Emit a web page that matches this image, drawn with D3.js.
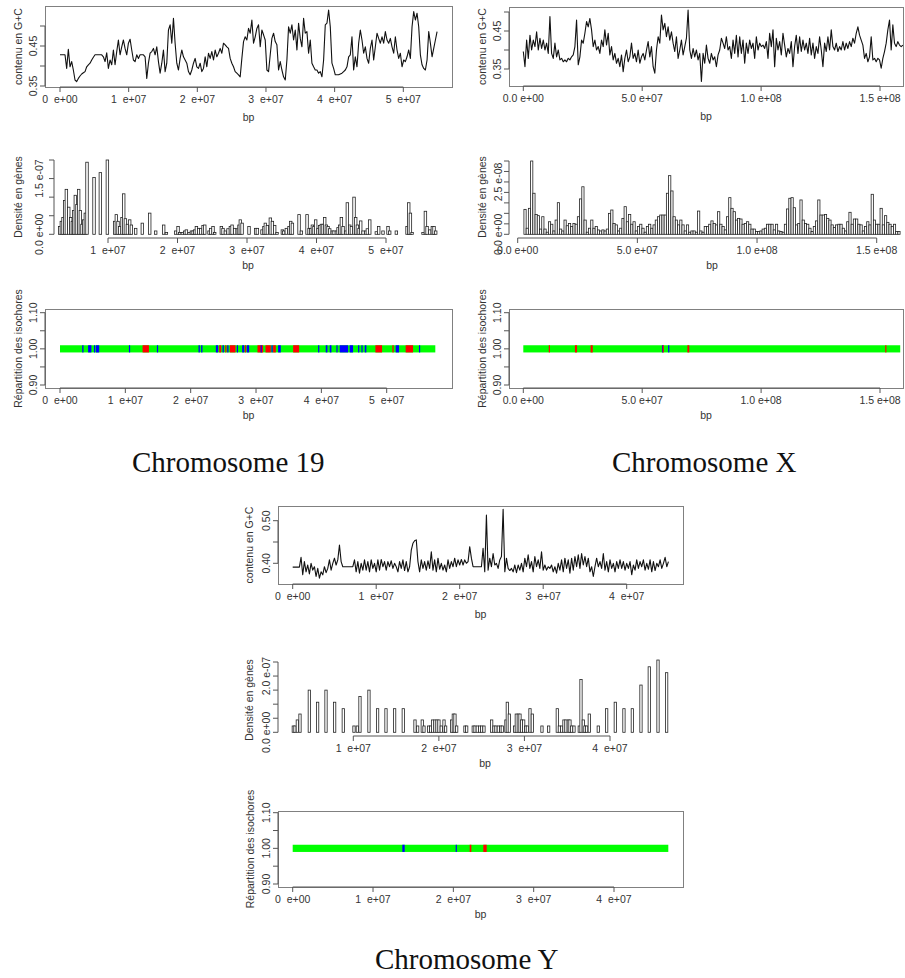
<!DOCTYPE html>
<html>
<head>
<meta charset="utf-8">
<script src="https://cdn.jsdelivr.net/npm/d3@7"></script>
<style>
  body { margin: 0; background: #fff; }
  text { font-family: "Liberation Sans", Arial, sans-serif; font-size: 10.5px; fill: #333; }
  .caption { font-family: "Liberation Serif", "Times New Roman", serif; font-size: 29px; fill: #111; }
</style>
</head>
<body>
<div id="chart"></div>
<script>
// ---------------- data ----------------
// G+C content along each chromosome, one value per sliding window
const chr19GCWindow = 243000;   // bp between consecutive windows
const chr19GC = [
  0.428,0.428,0.428,0.428,0.394,0.442,0.398,0.411,0.390,0.365,
  0.361,0.369,0.375,0.380,0.383,0.386,0.398,0.403,0.407,0.415,
  0.422,0.428,0.428,0.428,0.428,0.428,0.423,0.411,0.433,0.394,
  0.415,0.403,0.440,0.403,0.436,0.465,0.428,0.448,0.465,0.444,
  0.428,0.457,0.467,0.440,0.415,0.411,0.428,0.419,0.428,0.428,
  0.428,0.423,0.369,0.407,0.432,0.436,0.444,0.428,0.448,0.411,
  0.382,0.407,0.440,0.386,0.407,0.490,0.503,0.457,0.519,0.457,
  0.407,0.390,0.419,0.440,0.423,0.415,0.407,0.386,0.378,0.390,
  0.407,0.419,0.398,0.394,0.407,0.386,0.394,0.423,0.398,0.432,
  0.419,0.436,0.415,0.440,0.423,0.432,0.444,0.432,0.457,0.453,
  0.448,0.444,0.419,0.407,0.398,0.386,0.382,0.378,0.373,0.419,
  0.461,0.473,0.465,0.494,0.482,0.515,0.457,0.473,0.494,0.503,
  0.448,0.490,0.478,0.465,0.390,0.386,0.428,0.469,0.482,0.461,
  0.453,0.390,0.411,0.390,0.373,0.365,0.415,0.498,0.482,0.503,
  0.465,0.490,0.440,0.507,0.469,0.448,0.519,0.482,0.486,0.432,
  0.465,0.407,0.398,0.390,0.390,0.382,0.386,0.373,0.415,0.503,
  0.507,0.540,0.498,0.407,0.394,0.378,0.378,0.378,0.380,0.382,
  0.386,0.390,0.398,0.423,0.428,0.473,0.390,0.423,0.398,0.457,
  0.490,0.465,0.432,0.448,0.419,0.407,0.444,0.465,0.415,0.448,
  0.482,0.469,0.457,0.473,0.457,0.486,0.465,0.457,0.469,0.448,
  0.432,0.473,0.440,0.419,0.432,0.398,0.415,0.411,0.423,0.440,
  0.419,0.498,0.536,0.515,0.532,0.498,0.428,0.403,0.394,0.390,
  0.415,0.486,0.457,0.423,0.444,0.465,0.486
];

const chrXGCWindow = 700000;
const chrXGC = [
  0.396,0.356,0.426,0.378,0.439,0.400,0.426,0.409,0.448,0.400,
  0.431,0.404,0.426,0.400,0.418,0.391,0.488,0.391,0.378,0.418,
  0.382,0.400,0.374,0.378,0.369,0.374,0.369,0.378,0.374,0.382,
  0.387,0.409,0.479,0.361,0.382,0.426,0.418,0.444,0.475,0.461,
  0.483,0.453,0.409,0.426,0.400,0.409,0.391,0.426,0.409,0.453,
  0.413,0.444,0.387,0.409,0.374,0.391,0.365,0.378,0.356,0.387,
  0.343,0.378,0.400,0.369,0.382,0.418,0.378,0.391,0.369,0.400,
  0.365,0.382,0.391,0.374,0.400,0.422,0.382,0.409,0.356,0.339,
  0.400,0.435,0.418,0.492,0.453,0.470,0.435,0.461,0.426,0.448,
  0.418,0.396,0.435,0.378,0.400,0.426,0.387,0.409,0.431,0.505,
  0.400,0.378,0.404,0.382,0.400,0.374,0.391,0.317,0.391,0.365,
  0.413,0.378,0.365,0.391,0.374,0.382,0.356,0.387,0.400,0.431,
  0.418,0.404,0.435,0.400,0.409,0.378,0.426,0.391,0.439,0.382,
  0.435,0.391,0.426,0.365,0.418,0.391,0.426,0.404,0.418,0.378,
  0.435,0.400,0.418,0.409,0.413,0.404,0.422,0.378,0.444,0.409,
  0.453,0.356,0.431,0.400,0.422,0.387,0.444,0.413,0.382,0.404,
  0.391,0.422,0.356,0.409,0.439,0.391,0.435,0.396,0.426,0.400,
  0.418,0.391,0.431,0.387,0.418,0.378,0.409,0.391,0.435,0.400,
  0.356,0.418,0.396,0.435,0.400,0.453,0.409,0.400,0.418,0.396,
  0.409,0.400,0.422,0.400,0.418,0.404,0.422,0.409,0.431,0.418,
  0.444,0.461,0.439,0.426,0.413,0.378,0.391,0.369,0.382,0.435,
  0.374,0.378,0.369,0.378,0.374,0.352,0.378,0.396,0.418,0.453,
  0.479,0.400,0.466,0.418,0.409,0.422,0.413,0.409,0.413
];

const chrYGCWindow = 200000;
const chrYGC = [
  0.391,0.391,0.391,0.391,0.391,0.414,0.373,0.404,0.380,0.396,
  0.375,0.400,0.384,0.392,0.369,0.388,0.365,0.380,0.373,0.392,
  0.378,0.388,0.408,0.384,0.400,0.412,0.396,0.408,0.443,0.404,
  0.392,0.392,0.392,0.392,0.392,0.392,0.392,0.408,0.380,0.404,
  0.377,0.400,0.384,0.408,0.384,0.404,0.380,0.408,0.388,0.400,
  0.380,0.408,0.384,0.409,0.392,0.404,0.384,0.404,0.392,0.406,
  0.388,0.400,0.392,0.380,0.404,0.388,0.408,0.383,0.404,0.380,
  0.392,0.431,0.447,0.453,0.455,0.404,0.380,0.408,0.388,0.404,
  0.384,0.406,0.388,0.427,0.384,0.408,0.380,0.412,0.386,0.400,
  0.384,0.396,0.380,0.408,0.388,0.404,0.392,0.412,0.392,0.408,
  0.396,0.409,0.396,0.408,0.400,0.404,0.439,0.412,0.392,0.392,
  0.392,0.392,0.392,0.392,0.435,0.380,0.513,0.384,0.412,0.392,
  0.423,0.396,0.400,0.388,0.408,0.416,0.527,0.380,0.412,0.388,
  0.383,0.388,0.380,0.396,0.378,0.396,0.384,0.400,0.380,0.412,
  0.392,0.420,0.388,0.404,0.380,0.416,0.392,0.408,0.388,0.427,
  0.384,0.396,0.384,0.392,0.388,0.396,0.380,0.392,0.377,0.400,
  0.384,0.408,0.380,0.412,0.388,0.408,0.377,0.412,0.384,0.416,
  0.392,0.420,0.388,0.423,0.396,0.416,0.392,0.412,0.380,0.392,
  0.369,0.392,0.412,0.392,0.404,0.388,0.423,0.384,0.404,0.380,
  0.408,0.388,0.400,0.380,0.404,0.388,0.408,0.388,0.404,0.384,
  0.400,0.388,0.404,0.373,0.396,0.384,0.408,0.388,0.404,0.392,
  0.408,0.384,0.400,0.386,0.408,0.380,0.404,0.383,0.400,0.392,
  0.408,0.388,0.400,0.414,0.392,0.404
];

// Gene density (genes per bp, in units of 1e-8) : bin centre in Mb
const chr19DensPos = [
  3.05,3.29,3.53,3.77,4.01,4.35,4.63,4.87,5.06,5.30,5.54,5.78,6.02,6.26,6.50,6.74,6.98,7.99,8.90,9.91,
  10.96,11.20,11.44,11.68,12.02,12.26,12.50,12.79,13.12,13.36,13.98,14.94,16.00,16.86,18.01,18.40,
  19.74,20.08,20.32,20.70,21.04,21.28,21.66,22.00,22.24,22.48,22.72,23.05,23.34,23.68,23.92,
  24.54,24.78,25.11,25.35,26.31,26.55,26.89,27.27,27.61,27.85,28.23,28.61,28.85,29.04,29.29,
  30.29,31.25,31.49,32.16,32.44,32.64,32.93,33.36,33.65,33.98,34.32,35.09,35.28,35.66,36.05,
  36.29,36.53,37.49,37.82,38.64,38.93,39.17,39.41,39.64,39.88,40.22,40.46,40.70,40.94,41.18,
  41.42,41.66,41.90,42.28,42.52,42.86,43.10,43.34,43.58,43.82,44.20,44.44,44.78,45.02,45.40,
  45.64,45.88,46.12,46.36,46.70,47.08,47.32,47.66,48.61,48.95,49.57,50.29,50.53,51.49,53.03,
  53.27,53.51,53.75,55.33,55.67,55.91,56.29,56.67,56.91,57.15
];
const chr19Dens = [
  2.1,3.5,4.5,9.1,12.1,7.3,4.5,3.5,6.4,10.5,8.0,12.1,6.4,2.7,3.9,5.7,19.4,15.3,16.6,20.0,
  3.5,5.3,3.5,2.1,4.5,10.9,4.2,2.7,3.9,2.5,1.6,3.0,5.7,0.9,2.5,0.5,
  0.9,2.1,0.5,0.5,0.9,1.2,0.5,0.9,0.9,1.2,2.1,1.6,1.6,2.4,2.5,
  0.9,1.6,2.1,0.5,2.1,1.6,0.9,1.5,2.1,2.5,1.6,1.5,2.5,3.9,3.0,
  2.1,1.6,1.6,1.2,2.1,3.0,2.4,4.4,3.5,2.4,0.5,1.2,0.9,1.6,2.1,
  3.5,3.0,5.3,0.9,5.3,1.6,1.6,2.5,2.1,3.9,1.6,2.4,2.7,2.7,4.5,
  2.5,2.1,1.5,0.9,0.9,0.9,1.8,2.5,4.5,2.1,0.9,8.5,2.5,2.1,10.0,
  4.5,2.5,1.6,3.6,0.9,0.9,1.5,3.9,0.7,2.1,0.9,2.1,0.9,0.9,2.1,
  8.5,5.7,0.5,0.5,6.2,2.1,1.2,2.1,2.1,0.9
];

// Chromosome X gene density, regular bins (units of 1e-9)
const chrXBinStart = 2.6e6;
const chrXBinWidth = 0.93e6;
const chrXDens = [
  11.9,2.9,12.4,35.0,19.6,9.5,8.9,2.5,8.4,2.5,1.0,6.0,4.8,1.6,6.8,15.1,2.5,1.6,6.8,4.1,
  5.2,3.7,5.2,4.8,8.4,16.9,22.7,6.8,1.0,2.9,6.8,2.9,3.7,2.1,1.6,2.1,1.6,2.5,10.0,11.6,
  5.2,4.5,1.6,2.9,7.6,13.2,6.0,9.5,4.8,6.0,1.6,3.7,4.8,2.9,1.0,3.7,4.8,2.9,4.5,6.8,
  8.4,9.2,9.2,9.2,19.6,28.0,20.7,8.4,6.8,4.5,6.8,4.5,1.6,4.5,1.0,1.6,1.6,1.0,11.1,1.6,
  1.0,3.7,3.7,4.8,6.4,5.2,4.5,10.8,4.8,3.7,2.1,8.4,17.5,12.4,10.8,6.8,7.6,7.3,4.8,5.2,
  6.0,4.8,2.5,2.5,1.3,1.3,1.6,2.5,2.9,4.8,4.8,4.8,2.1,4.8,1.6,1.3,1.0,4.8,12.1,17.2,
  17.5,12.7,4.5,5.2,16.4,6.8,5.2,4.8,2.9,1.3,3.7,6.4,16.4,9.2,9.2,9.5,7.6,6.8,4.5,3.2,
  4.5,4.8,4.8,2.9,1.6,6.0,10.5,4.8,7.3,7.3,4.8,4.5,1.6,3.7,6.0,4.5,19.1,6.8,4.8,4.8,
  12.4,4.5,8.9,5.7,4.8,3.7,4.8,1.3,1.3
];

// Chromosome Y gene density (units of 1e-8) : bin centre in Mb
const chrYDensPos = [
  2.99,3.18,3.46,3.77,4.86,5.83,6.81,7.82,8.83,10.08,10.47,10.78,11.83,12.84,13.82,14.83,15.84,
  17.21,17.52,18.06,18.26,18.80,19.04,19.27,19.54,19.78,20.01,20.28,20.60,20.79,21.49,21.69,
  21.88,22.08,23.05,23.25,24.02,24.22,24.49,24.76,25.00,25.27,26.17,26.44,26.67,26.95,27.22,
  27.41,27.84,28.00,28.23,28.85,29.05,29.28,29.48,29.67,29.91,30.14,30.34,30.65,30.92,32.05,
  32.83,33.84,34.08,34.35,34.62,34.85,35.13,35.32,35.52,35.79,36.41,36.61,36.88,37.07,37.27,
  37.58,38.63,39.61,40.62,41.63,42.61,43.62,44.59,45.61,46.62
];
const chrYDens = [
  2.25,2.25,4.4,6.5,15.0,10.7,15.0,10.7,8.4,2.25,2.25,12.7,15.0,8.4,8.4,8.4,8.4,
  4.4,2.25,4.4,2.25,2.25,2.25,4.4,4.4,4.4,4.4,2.25,4.4,2.25,4.4,6.5,
  6.5,2.25,2.25,2.25,2.25,2.25,2.25,2.25,2.25,2.25,4.4,2.25,2.25,2.25,2.25,
  2.25,4.4,10.7,6.5,2.25,6.5,6.5,6.5,4.4,4.4,2.25,2.25,8.4,6.5,2.25,
  2.25,8.4,2.25,2.25,4.4,4.4,4.4,4.4,2.25,2.25,2.25,18.8,4.4,2.25,2.25,
  6.5,2.25,8.4,10.7,8.4,8.4,16.8,23.3,25.7,21.2
];

// Isochore families along each chromosome: [start Mb, end Mb, family]
const isoFamilies = ["L", "H1", "H2"];
const isoColors = ["#00ff00", "#0000ff", "#ff0000"];

const chr19Length = 57.44;
const chr19Iso = [
  [3.40,3.60,"H1"],[4.30,4.80,"H1"],[5.20,5.35,"H1"],[5.50,6.00,"H1"],[10.55,10.70,"H1"],
  [12.64,13.61,"H2"],[14.83,14.98,"H1"],[21.20,21.40,"H1"],[21.60,21.80,"H1"],
  [23.85,24.20,"H1"],[24.36,24.67,"H2"],[24.87,25.08,"H1"],[25.28,25.43,"H2"],[25.59,25.79,"H1"],
  [25.99,26.86,"H2"],[27.06,27.17,"H1"],[27.88,28.19,"H1"],[28.29,28.44,"H2"],[28.59,28.95,"H1"],
  [30.22,31.09,"H2"],[30.70,30.78,"H1"],[31.45,32.26,"H2"],[32.37,32.52,"H1"],[32.62,33.03,"H2"],
  [33.38,33.79,"H1"],[35.68,36.60,"H2"],[39.50,39.65,"H1"],[40.67,40.93,"H1"],[41.28,41.54,"H1"],
  [42.30,42.40,"H1"],[42.81,44.09,"H1"],[44.34,44.85,"H1"],[45.62,45.77,"H1"],[46.13,46.28,"H1"],
  [46.64,46.89,"H1"],[48.27,49.29,"H2"],[50.87,51.07,"H2"],[51.38,51.89,"H1"],[52.90,54.03,"H2"],
  [54.94,55.10,"H1"]
];

const chrXLength = 158.5;
const chrXIso = [
  [10.7,11.1,"H2"],[21.7,22.6,"H2"],[28.3,29.2,"H2"],[58.3,58.6,"H1"],[58.6,58.9,"H2"],
  [60.9,61.4,"H1"],[69.0,69.8,"H2"],[152.2,152.6,"H2"]
];

const chrYLength = 46.76;
const chrYIso = [
  [13.65,13.94,"H1"],[20.29,20.41,"H1"],[22.03,22.24,"H2"],[23.73,24.15,"H2"]
];

// ---------------- drawing ----------------
const W = 905, H = 978;
const AX = "#555", BOX = "#808080";
const svg = d3.select("#chart").append("svg").attr("width", W).attr("height", H);
svg.append("rect").attr("width", W).attr("height", H).attr("fill", "#fff");

// R-like scientific labels, e.g. "1.5 e-07", "1  e+07"
function sci(v, digits, gap) {
  if (v === 0) return (digits ? (0).toFixed(digits) : "0") + gap + "e+00";
  const e = Math.floor(Math.log10(Math.abs(v)) + 1e-9);
  const m = v / Math.pow(10, e);
  return m.toFixed(digits) + gap + "e" + (e < 0 ? "-" : "+") + String(Math.abs(e)).padStart(2, "0");
}
const fmtMb = v => sci(v, 0, "  ");
const fmtX = v => sci(v, 1, " ");
const fmtDens = v => sci(v, 1, " ");
const fmtFix = v => v.toFixed(2);

function xAxis(g, x, ticks, fmt, yLine) {
  g.append("line").attr("x1", x(ticks[0])).attr("x2", x(ticks[ticks.length - 1]))
    .attr("y1", yLine).attr("y2", yLine).attr("stroke", AX);
  ticks.forEach(t => {
    g.append("line").attr("x1", x(t)).attr("x2", x(t)).attr("y1", yLine).attr("y2", yLine + 5).attr("stroke", AX);
    g.append("text").attr("x", x(t)).attr("y", yLine + 16).attr("text-anchor", "middle")
      .style("white-space", "pre").text(fmt(t));
  });
}

function yAxis(g, y, ticks, labelled, fmt, xLine, labelX) {
  g.append("line").attr("x1", xLine).attr("x2", xLine)
    .attr("y1", y(ticks[0])).attr("y2", y(ticks[ticks.length - 1])).attr("stroke", AX);
  ticks.forEach(t => {
    g.append("line").attr("x1", xLine - 5).attr("x2", xLine).attr("y1", y(t)).attr("y2", y(t)).attr("stroke", AX);
  });
  labelled.forEach(t => {
    g.append("text").attr("transform", `translate(${labelX},${y(t)}) rotate(-90)`)
      .attr("text-anchor", "middle").attr("dy", "0.35em").style("white-space", "pre").text(fmt(t));
  });
}

function titles(g, ylab, yx, yy, bx, by) {
  g.append("text").attr("transform", `translate(${yx},${yy}) rotate(-90)`)
    .attr("text-anchor", "middle").attr("dy", "0.35em").text(ylab);
  g.append("text").attr("x", bx).attr("y", by).attr("text-anchor", "middle").attr("dy", "0.35em").text("bp");
}

let clipId = 0;
function box(g, b) {
  const id = "clip" + (clipId++);
  g.append("clipPath").attr("id", id).append("rect")
    .attr("x", b[0]).attr("y", b[1]).attr("width", b[2] - b[0]).attr("height", b[3] - b[1]);
  g.append("rect").attr("x", b[0] + 0.5).attr("y", b[1] + 0.5)
    .attr("width", b[2] - b[0]).attr("height", b[3] - b[1])
    .attr("fill", "none").attr("stroke", BOX);
  return id;
}

// ---- G+C content panels ----
function gcPanel(o) {
  const g = svg.append("g");
  const x = d3.scaleLinear().domain(o.xRef).range(o.xPix);
  const y = d3.scaleLinear().domain(o.yRef).range(o.yPix);
  const id = box(g, o.box);
  const line = d3.line().x((d, i) => x(i * o.step)).y(d => y(d));
  g.append("path").datum(o.values).attr("d", line)
    .attr("clip-path", `url(#${id})`)
    .attr("fill", "none").attr("stroke", "#111").attr("stroke-width", 1.1).attr("stroke-linejoin", "round");
  xAxis(g, x, o.xTicks, o.xFmt, o.box[3]);
  yAxis(g, y, o.yTicks, o.yLabels, fmtFix, o.box[0], o.box[0] - 12);
  titles(g, "contenu en G+C", o.ylabX, (o.box[1] + o.box[3]) / 2, (o.box[0] + o.box[2]) / 2, o.box[3] + 30);
}

// ---- gene density panels ----
function densPanel(o) {
  const g = svg.append("g");
  const x = d3.scaleLinear().domain(o.xRef).range(o.xPix);
  const y = d3.scaleLinear().domain(o.yRef).range(o.yPix);
  const bw = x(o.barWidth) - x(0);
  g.selectAll("rect.bar").data(o.bars).enter().append("rect").attr("class", "bar")
    .attr("x", d => x(d.pos) - bw / 2).attr("width", bw)
    .attr("y", d => y(d.val)).attr("height", d => y(0) - y(d.val))
    .attr("fill", "#fff").attr("stroke", "#222").attr("stroke-width", 0.8);
  xAxis(g, x, o.xTicks, o.xFmt, o.axisY);
  yAxis(g, y, o.yTicks, o.yLabels, fmtDens, o.axisX, o.labelX);
  titles(g, "Densité en gènes", o.ylabX, o.ylabY, o.bpX, o.axisY + 27);
}

// ---- isochore panels ----
function isoPanel(o) {
  const g = svg.append("g");
  const x = d3.scaleLinear().domain(o.xRef).range(o.xPix);
  const y = d3.scaleLinear().domain([0.9, 1.1]).range(o.yPix);
  box(g, o.box);
  const color = d3.scaleOrdinal().domain(isoFamilies).range(isoColors);
  const half = 3.6;
  g.append("rect").attr("x", x(0)).attr("width", x(o.length * 1e6) - x(0))
    .attr("y", y(1) - half).attr("height", 2 * half).attr("fill", color("L"));
  g.selectAll("rect.seg").data(o.segments).enter().append("rect").attr("class", "seg")
    .attr("x", d => x(d[0] * 1e6)).attr("width", d => Math.max(1.2, x(d[1] * 1e6) - x(d[0] * 1e6)))
    .attr("y", y(1) - half).attr("height", 2 * half).attr("fill", d => color(d[2]));
  xAxis(g, x, o.xTicks, o.xFmt, o.box[3]);
  yAxis(g, y, [0.9, 0.95, 1.0, 1.05, 1.1], [0.9, 1.0, 1.1], fmtFix, o.box[0], o.box[0] - 12);
  titles(g, "Répartition des isochores", o.ylabX, (o.box[1] + o.box[3]) / 2, (o.box[0] + o.box[2]) / 2, o.box[3] + 27);
}

const mbTicks19 = [0, 1e7, 2e7, 3e7, 4e7, 5e7];
const mbTicksY = [0, 1e7, 2e7, 3e7, 4e7];
const xTicksX = [0, 5e7, 1e8, 1.5e8];

// Chromosome 19
gcPanel({ values: chr19GC, step: chr19GCWindow, box: [45, 6, 452, 87],
  xRef: [0, 5e7], xPix: [60, 403.3], yRef: [0.35, 0.45], yPix: [86, 46],
  xTicks: mbTicks19, xFmt: fmtMb, yTicks: [0.35, 0.40, 0.45, 0.50], yLabels: [0.35, 0.45], ylabX: 18 });

densPanel({ bars: chr19DensPos.map((p, i) => ({ pos: p * 1e6, val: chr19Dens[i] * 1e-8 })), barWidth: 0.36e6,
  xRef: [1e7, 5e7], xPix: [108, 386], yRef: [0, 2e-7], yPix: [234.3, 160],
  xTicks: [1e7, 2e7, 3e7, 4e7, 5e7], xFmt: fmtMb, axisY: 238, axisX: 54, labelX: 39,
  yTicks: [0, 5e-8, 1e-7, 1.5e-7, 2e-7], yLabels: [0, 1.5e-7], ylabX: 18, ylabY: 197, bpX: 248 });

isoPanel({ segments: chr19Iso, length: chr19Length, box: [45, 309, 452, 388],
  xRef: [0, 5e7], xPix: [60, 386.7], yPix: [385, 312.7], xTicks: mbTicks19, xFmt: fmtMb, ylabX: 18 });

// Chromosome X
gcPanel({ values: chrXGC, step: chrXGCWindow, box: [509, 7, 903, 86],
  xRef: [0, 1.5e8], xPix: [523.3, 880], yRef: [0.35, 0.45], yPix: [69, 31],
  xTicks: xTicksX, xFmt: fmtX, yTicks: [0.35, 0.40, 0.45, 0.50], yLabels: [0.35, 0.45], ylabX: 482 });

densPanel({ bars: chrXDens.map((v, i) => ({ pos: chrXBinStart + (i + 0.5) * chrXBinWidth, val: v * 1e-9 })),
  barWidth: chrXBinWidth,
  xRef: [0, 1.5e8], xPix: [517.7, 876.7], yRef: [0, 3.5e-8], yPix: [234.3, 161],
  xTicks: xTicksX, xFmt: fmtX, axisY: 238, axisX: 509, labelX: 498,
  yTicks: d3.range(0, 8).map(i => i * 5e-9), yLabels: [0, 2.5e-8], ylabX: 482, ylabY: 197, bpX: 712 });

isoPanel({ segments: chrXIso, length: chrXLength, box: [509, 309, 903, 388],
  xRef: [0, 1.5e8], xPix: [523.3, 880], yPix: [385, 312.7], xTicks: xTicksX, xFmt: fmtX, ylabX: 482 });

// Chromosome Y
gcPanel({ values: chrYGC, step: chrYGCWindow, box: [278, 506, 683, 584],
  xRef: [0, 4e7], xPix: [292.7, 626.7], yRef: [0.40, 0.50], yPix: [563.3, 520.7],
  xTicks: mbTicksY, xFmt: fmtMb, yTicks: [0.40, 0.45, 0.50], yLabels: [0.40, 0.50], ylabX: 249 });

densPanel({ bars: chrYDensPos.map((p, i) => ({ pos: p * 1e6, val: chrYDens[i] * 1e-8 })), barWidth: 0.27e6,
  xRef: [1e7, 4e7], xPix: [353.3, 610], yRef: [0, 2.5e-7], yPix: [732.3, 662],
  xTicks: [1e7, 2e7, 3e7, 4e7], xFmt: fmtMb, axisY: 736, axisX: 278, labelX: 266,
  yTicks: [0, 5e-8, 1e-7, 1.5e-7, 2e-7, 2.5e-7], yLabels: [0, 2e-7], ylabX: 249, ylabY: 700, bpX: 485 });

isoPanel({ segments: chrYIso, length: chrYLength, box: [278, 811, 683, 887],
  xRef: [0, 4e7], xPix: [292.7, 614], yPix: [884, 812.7], xTicks: mbTicksY, xFmt: fmtMb, ylabX: 250 });

// captions
svg.append("text").attr("class", "caption").attr("x", 132).attr("y", 472).text("Chromosome 19");
svg.append("text").attr("class", "caption").attr("x", 612).attr("y", 472).text("Chromosome X");
svg.append("text").attr("class", "caption").attr("x", 375).attr("y", 969).text("Chromosome Y");
</script>
</body>
</html>
